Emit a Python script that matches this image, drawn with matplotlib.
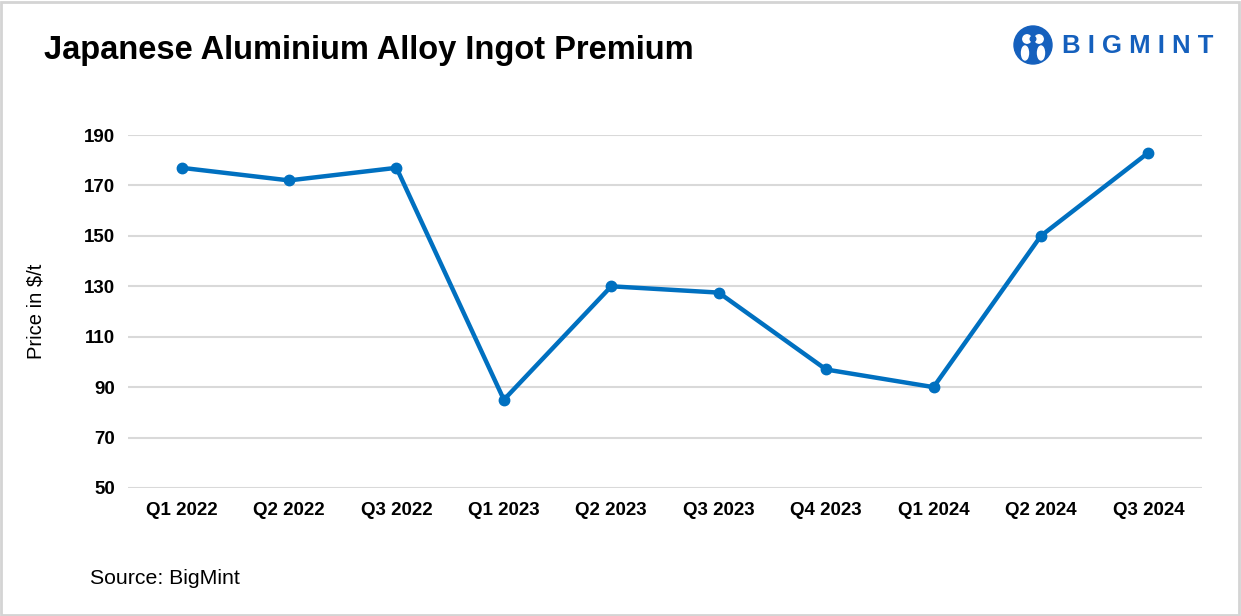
import matplotlib
matplotlib.use("Agg")
import matplotlib.pyplot as plt
from matplotlib.patches import Rectangle, Circle, Ellipse

categories = ["Q1 2022", "Q2 2022", "Q3 2022", "Q1 2023", "Q2 2023",
              "Q3 2023", "Q4 2023", "Q1 2024", "Q2 2024", "Q3 2024"]
premium = [177, 172, 177, 85, 130, 127.5, 97, 90, 150, 183]
yticks = [50, 70, 90, 110, 130, 150, 170, 190]

title = "Japanese Aluminium Alloy Ingot Premium"
ylabel = "Price in $/t"
source = "Source: BigMint"

plt.rcParams['font.family'] = ['Liberation Sans', 'DejaVu Sans']

fig = plt.figure(figsize=(12.41, 6.16), dpi=100)
fig.patch.set_facecolor("white")

ax = fig.add_axes([0.1031, 0.2078, 0.8655, 0.573])
x = list(range(len(categories)))
ax.plot(x, premium, color="#0070C0", linewidth=3.2, marker="o", markersize=7.5,
        solid_joinstyle="round", zorder=3)
ax.set_xlim(-0.5, len(categories) - 0.5)
ax.set_ylim(50, 190)
ax.set_yticks(yticks)
ax.set_xticks(x)
ax.set_xticklabels(categories, fontsize=13.5, fontweight="bold")
ax.set_yticklabels([str(v) for v in yticks], fontsize=13.5, fontweight="bold")
ax.tick_params(axis="both", length=0)
ax.tick_params(axis="y", pad=9)
ax.tick_params(axis="x", pad=10)
ax.grid(axis="y", color="#d9d9d9", linewidth=1.5)
ax.set_axisbelow(True)
for s in ax.spines.values():
    s.set_visible(False)
ax.set_ylabel(ylabel, fontsize=14.5)
ax.yaxis.set_label_coords(-0.077, 0.5)

fig.text(44 / 1241, 1 - 50 / 616, title, fontsize=23.5, fontweight="bold",
         ha="left", va="center", color="black")
fig.text(90 / 1241, 1 - 578 / 616, source, fontsize=15.3, ha="left", va="center",
         color="black")

# figure border
fig.add_artist(Rectangle((0.001, 0.002), 0.997, 0.995, transform=fig.transFigure,
                         fill=False, edgecolor="#d4d4d4", linewidth=2))

# logo
blue = "#1560BD"
lax = fig.add_axes([1012 / 1241, 1 - 68 / 616, 42 / 1241, 44 / 616])
lax.set_xlim(0, 42)
lax.set_ylim(0, 44)
lax.set_aspect("equal")
lax.axis("off")
lax.add_patch(Circle((21, 23), 19, color=blue))
lax.add_patch(Circle((15, 29), 4.2, color="white"))
lax.add_patch(Circle((27, 29), 4.2, color="white"))
lax.add_patch(Ellipse((13, 15), 7, 14, color="white"))
lax.add_patch(Ellipse((29, 15), 7, 14, color="white"))
lax.add_patch(Circle((21, 29), 2.8, color=blue))
fig.text(1062 / 1241, 1 - 46 / 616, "B I G M I N T", fontsize=18.5, fontweight="bold",
         color=blue, ha="left", va="center")

fig.savefig("out.png", dpi=100)
